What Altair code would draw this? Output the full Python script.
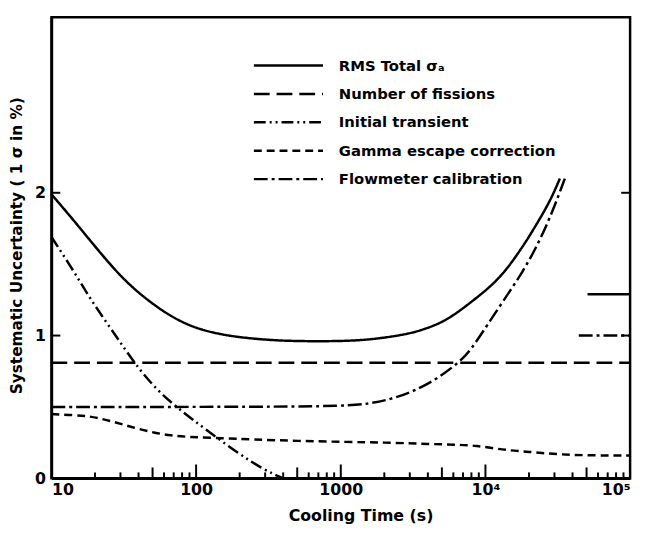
import altair as alt
import pandas as pd

FONT = "DejaVu Sans"

# ---------------- data ----------------
series_names = ["RMS Total σₐ", "Number of fissions", "Initial transient",
                "Gamma escape correction", "Flowmeter calibration"]

rms_t = [10, 13.9, 18.2, 23.7, 30.5, 39.9, 52, 67, 87.5, 114, 147, 192, 300, 490, 1080,
         1733, 2910, 3800, 4970, 6390, 8340, 10900, 14000, 18300, 21400, 28000, 32700]
rms_v = [1.99, 1.82, 1.675, 1.535, 1.41, 1.30, 1.21, 1.135, 1.075, 1.035, 1.01, 0.99, 0.97, 0.96, 0.96,
         0.975, 1.01, 1.045, 1.09, 1.16, 1.25, 1.345, 1.46, 1.63, 1.74, 1.94, 2.10]

fission_t = [10, 100000]
fission_v = [0.81, 0.81]

transient_t = [10, 13.9, 18.2, 23.7, 30.5, 38, 52, 77, 114, 192, 294, 400]
transient_v = [1.69, 1.47, 1.27, 1.10, 0.94, 0.80, 0.63, 0.48, 0.35, 0.18, 0.06, 0.0]

gamma_t = [10, 13.9, 18.2, 23.7, 30.5, 39.9, 52, 67, 87.5, 126, 493, 2371, 4000, 6810,
           8700, 11400, 14900, 19200, 32700, 57000, 100000]
gamma_v = [0.45, 0.443, 0.436, 0.41, 0.38, 0.346, 0.318, 0.30, 0.29, 0.284, 0.26, 0.25, 0.24, 0.235,
           0.228, 0.21, 0.195, 0.187, 0.166, 0.16, 0.16]

flow_t = [10, 925, 1550, 2371, 3990, 6810, 8340, 12800, 18300, 23900, 29400, 35400]
flow_v = [0.50, 0.50, 0.52, 0.56, 0.65, 0.82, 0.93, 1.22, 1.45, 1.67, 1.88, 2.10]

# short limit marks at the right edge
rms_limit_t = [50800, 100000]
rms_limit_v = [1.29, 1.29]
flow_limit_t = [44200, 100000]
flow_limit_v = [1.00, 1.00]

x_tick_values = [10, 100, 1000, 10000, 100000]
x_tick_labels = ["10", "100", "1000", "10⁴", "10⁵"]
y_tick_values = [0, 1, 2]

minor_small = [m * 10 ** d for d in range(1, 5) for m in (2, 3, 4, 6, 7, 8, 9)]
minor_mid = [50, 500, 5000, 50000]
major_in = [100, 1000, 10000]

dashes = [[1, 0], [16, 7], [12, 4, 2, 4, 2, 4], [8, 5], [14, 4, 3, 4]]

# ---------------- build tables ----------------
rows = []
def add(ts, vs, style, seg):
    for t, v in zip(ts, vs):
        rows.append({"t": t, "v": v, "style": style, "seg": seg})

add(rms_t, rms_v, series_names[0], "rms")
add(fission_t, fission_v, series_names[1], "fis")
add(transient_t, transient_v, series_names[2], "tr")
add(gamma_t, gamma_v, series_names[3], "gam")
add(flow_t, flow_v, series_names[4], "flow")
add(rms_limit_t, rms_limit_v, series_names[0], "rms_lim")
add(flow_limit_t, flow_limit_v, series_names[4], "flow_lim")
df = pd.DataFrame(rows)

W, H = 586, 467

label_expr = ""
for val, lab in zip(x_tick_values, x_tick_labels):
    label_expr += f"datum.value == {val} ? '{lab}' : "
label_expr += "''"

dash_scale = alt.Scale(domain=series_names, range=dashes)
xscale = alt.Scale(type="log", domain=[10, 100000])
yscale = alt.Scale(domain=[0, 3.23], nice=False)

x_axis = alt.Axis(values=x_tick_values, labelExpr=label_expr, ticks=False, grid=False,
                  domainColor="black", domainWidth=2.5, labelFontSize=16, labelFontWeight="bold",
                  labelColor="black", labelPadding=3,
                  labelAlign=alt.ConditionalAxisLabelAlign(
                      condition=[{"test": "datum.value <= 10", "value": "left"},
                                 {"test": "datum.value >= 100000", "value": "right"}],
                      value="center"),
                  title="Cooling Time (s)", titleFontSize=16, titleFontWeight="bold", titleColor="black",
                  titleX=313, titleY=38, titleBaseline="middle", titleAlign="center")
y_axis = alt.Axis(values=y_tick_values, format="d", ticks=False, grid=False,
                  domainColor="black", domainWidth=2.5, labelFontSize=16, labelFontWeight="bold",
                  labelColor="black", labelPadding=6,
                  title="Systematic Uncertainty ( 1 σ in %)", titleFontSize=15.5, titleFontWeight="bold",
                  titleColor="black", titleX=-35, titleY=231, titleAngle=270,
                  titleBaseline="middle", titleAlign="center")

curves = alt.Chart(df).mark_line(color="black", strokeWidth=2.5, interpolate="basis").encode(
    x=alt.X("t:Q", scale=xscale, axis=x_axis),
    y=alt.Y("v:Q", scale=yscale, axis=y_axis),
    strokeDash=alt.StrokeDash("style:N", scale=dash_scale, legend=None),
    detail="seg:N",
)

def bottom_ticks(vals, length):
    return alt.Chart(pd.DataFrame({"t": vals})).mark_rule(color="black", strokeWidth=2).encode(
        x=alt.X("t:Q", scale=xscale), y=alt.value(H), y2=alt.value(H - length))

left_ticks = alt.Chart(pd.DataFrame({"v": y_tick_values[1:]})).mark_rule(color="black", strokeWidth=2).encode(
    y=alt.Y("v:Q", scale=yscale), x=alt.value(0), x2=alt.value(9))
right_ticks = alt.Chart(pd.DataFrame({"v": y_tick_values[1:]})).mark_rule(color="black", strokeWidth=2).encode(
    y=alt.Y("v:Q", scale=yscale), x=alt.value(W - 9), x2=alt.value(W))

main = alt.layer(curves, bottom_ticks(minor_small, 6), bottom_ticks(minor_mid, 11),
                 bottom_ticks(major_in, 14), left_ticks, right_ticks)

legend_df = pd.DataFrame({"name": series_names, "style": series_names})
leg_base = alt.Chart(legend_df).transform_window(i="row_number()").transform_calculate(
    py="49 + (datum.i - 1) * 28.75")
leg_lines = leg_base.mark_rule(color="black", strokeWidth=2.5).encode(
    x=alt.value(205), x2=alt.value(275),
    y=alt.Y("py:Q", scale=None, axis=None),
    strokeDash=alt.StrokeDash("style:N", scale=dash_scale, legend=None))
leg_text = leg_base.mark_text(align="left", baseline="middle", font=FONT, fontSize=15,
                              fontWeight="bold", color="black").encode(
    x=alt.value(291), y=alt.Y("py:Q", scale=None, axis=None), text="name:N")

chart = alt.layer(main, leg_lines, leg_text).resolve_scale(y="independent").properties(
    width=W, height=H,
    padding={"left": 44, "top": 6, "right": 8, "bottom": 46},
    autosize=alt.AutoSizeParams(type="none"),
    background="white",
).configure_axis(labelFont=FONT, titleFont=FONT).configure_text(font=FONT).configure_view(
    stroke="black", strokeWidth=2.5)

chart.save("out.html", embed_options={"renderer": "svg", "actions": False})
